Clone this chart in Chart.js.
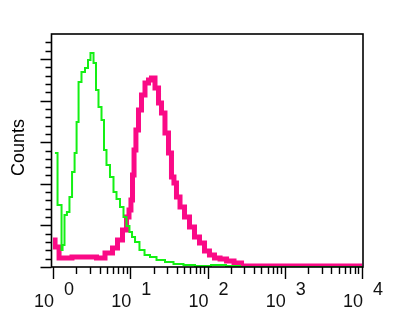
<!DOCTYPE html>
<html>
<head>
<meta charset="utf-8">
<script src="https://cdn.jsdelivr.net/npm/chart.js@4/dist/chart.umd.min.js"></script>
<style>
html,body{margin:0;padding:0;background:#fff;}
#wrap{width:400px;height:324px;}
</style>
</head>
<body>
<div id="wrap"><canvas id="c"></canvas></div>
<script>
// control (green) histogram
const greenX=[1.06,1.13,1.16,1.27,1.31,1.35,1.47,1.56,1.71,1.82,1.99,2.05,2.24,2.44,2.76,2.92,3.2,3.5,3.71,4.06,4.44,4.71,5.15,5.8,6.35,6.94,7.82,8.55,9.35,10.2,10.9,12.2,14.2,16.5,19.7,24.3,32.7,40.3,59.3,80,154,196,355,10000];
const greenY=[68.5,68.5,37.3,37.3,10.2,13.2,31.3,33.1,42.1,57.1,68.5,87.1,111.2,117.2,119.6,124.4,128.6,122.6,106.4,96.2,88.3,70.3,61.3,54.1,45.1,40.9,36.1,30.1,24.6,21,18,15,10.2,7.2,6,4.2,3,1.8,1.2,0.6,1.2,0.6,0,0];
// stained (pink) histogram
const pinkX=[1,1.13,1.27,2.44,3.3,4.06,5.47,6.35,7.37,8.55,9.35,9.93,10.5,10.9,11.5,12.2,13.4,14.6,16.5,18,19.7,22.2,24.3,26.5,29.9,32.7,35.7,37.9,41.5,46.8,54.3,63,73.1,84.9,98.6,114,133,159,196,248,306,10000];
const pinkY=[16.2,12,5.4,6,6,5.4,8.4,11.4,16.2,22.2,30,34.3,40.3,55.3,70.3,82.3,94.4,103.4,110.6,112.4,113.6,107.6,98.6,92.6,80.5,68.5,54.1,50.5,42.1,36.1,30.1,24,18,14.4,9.6,7.2,5.4,4.8,3.6,2.4,0.6,0.6];
const decades=[1,10,100,1000,10000];
const exponents=["0","1","2","3","4"];
const yMax=140;

const frame={
id:'frame',
afterDatasetsDraw(chart){
const {ctx,chartArea:a,scales:{x,y}}=chart;
const L=a.left-1.5;
ctx.save();
ctx.strokeStyle='#000'; ctx.lineWidth=1.6;
ctx.strokeRect(L,a.top,a.right+1-L,a.bottom-a.top);
ctx.lineWidth=1.4;
ctx.beginPath();
for(let v=0;v<yMax;v+=5){
let py=Math.round(y.getPixelForValue(v))+0.5;
let len=v%25==0?11:6;
ctx.moveTo(L-len,py); ctx.lineTo(L,py);
}
decades.forEach((d,i)=>{
let px=Math.round(x.getPixelForValue(d))+0.5;
ctx.moveTo(px,a.bottom); ctx.lineTo(px,a.bottom+12);
if(i<decades.length-1){
for(let m=2;m<10;m++){
let mx=Math.round(x.getPixelForValue(d*m))+0.5;
ctx.moveTo(mx,a.bottom); ctx.lineTo(mx,a.bottom+7);
}
}
});
ctx.stroke();
ctx.fillStyle='#111';
ctx.font='18px "Liberation Sans", Arial, sans-serif';
ctx.textBaseline='alphabetic';
decades.forEach((d,i)=>{
let px=x.getPixelForValue(d);
ctx.textAlign='right'; ctx.fillText("10",px+1,a.bottom+40);
ctx.textAlign='left'; ctx.fillText(exponents[i],px+11,a.bottom+28);
});
ctx.translate(24,(a.top+a.bottom)/2-3);
ctx.rotate(-Math.PI/2);
ctx.textAlign='center';
ctx.fillStyle='#000';
ctx.fillText("Counts",0,0);
ctx.restore();
}
};

new Chart(document.getElementById('c'),{
type:'line',
data:{datasets:[
{label:'control',data:greenX.map((v,i)=>({x:v,y:greenY[i]})),borderColor:'#14f014',borderWidth:2,pointRadius:0,stepped:'middle',fill:false},
{label:'stained',data:pinkX.map((v,i)=>({x:v,y:pinkY[i]})),borderColor:'#fa0a86',borderWidth:5,pointRadius:0,stepped:'middle',fill:false}
]},
options:{
responsive:true,maintainAspectRatio:false,animation:false,
layout:{padding:{left:53,right:38,top:34,bottom:57}},
plugins:{legend:{display:false},tooltip:{enabled:false}},
scales:{
x:{type:'logarithmic',min:1,max:10000,display:false},
y:{type:'linear',min:0,max:yMax,display:false}
}
},
plugins:[frame]
});
</script>
</body>
</html>
